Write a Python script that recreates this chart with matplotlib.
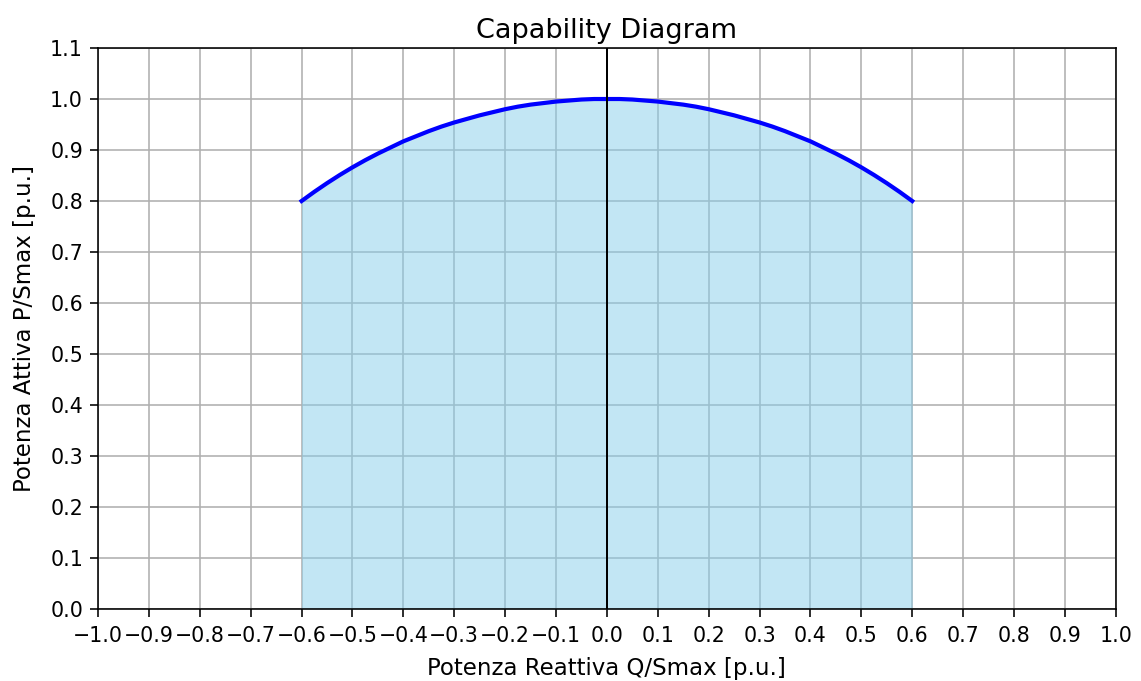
import matplotlib
matplotlib.use("Agg")
import matplotlib.pyplot as plt

# Values (arc from Q=-0.6 to Q=0.6)
q_vals = [-0.600, -0.575, -0.550, -0.525, -0.500, -0.475, -0.450, -0.425, -0.400, -0.375,
          -0.350, -0.325, -0.300, -0.275, -0.250, -0.225, -0.200, -0.175, -0.150, -0.125,
          -0.100, -0.075, -0.050, -0.025, 0.000, 0.025, 0.050, 0.075, 0.100, 0.125,
          0.150, 0.175, 0.200, 0.225, 0.250, 0.275, 0.300, 0.325, 0.350, 0.375,
          0.400, 0.425, 0.450, 0.475, 0.500, 0.525, 0.550, 0.575, 0.600]
p_vals = [0.800, 0.818, 0.835, 0.851, 0.866, 0.880, 0.893, 0.905, 0.917, 0.927,
          0.937, 0.946, 0.954, 0.961, 0.968, 0.974, 0.980, 0.985, 0.989, 0.992,
          0.995, 0.997, 0.999, 1.000, 1.000, 1.000, 0.999, 0.997, 0.995, 0.992,
          0.989, 0.985, 0.980, 0.974, 0.968, 0.961, 0.954, 0.946, 0.937, 0.927,
          0.917, 0.905, 0.893, 0.880, 0.866, 0.851, 0.835, 0.818, 0.800]
x_ticks = [-1.0, -0.9, -0.8, -0.7, -0.6, -0.5, -0.4, -0.3, -0.2, -0.1, 0.0,
           0.1, 0.2, 0.3, 0.4, 0.5, 0.6, 0.7, 0.8, 0.9, 1.0]
y_ticks = [0.0, 0.1, 0.2, 0.3, 0.4, 0.5, 0.6, 0.7, 0.8, 0.9, 1.0, 1.1]

S = 1.44
TICK_FS = 14.8
plt.rcParams['xtick.labelsize'] = TICK_FS
plt.rcParams['ytick.labelsize'] = TICK_FS
fig = plt.figure(figsize=(11.41, 6.81), dpi=100)
ax = fig.add_axes([0.0859, 0.1057, 0.892, 0.8238])

ax.fill_between(q_vals, 0, p_vals, color='skyblue', alpha=0.5, linewidth=0)
ax.plot(q_vals, p_vals, color='blue', linewidth=3.0)
ax.axvline(0, color='black', linewidth=1.0 * S)

ax.set_xlim(-1.0, 1.0)
ax.set_ylim(0.0, 1.1)
ax.set_xticks(x_ticks)
ax.set_yticks(y_ticks)
ax.set_xticklabels([f"{t:.1f}".replace('-', '\u2212') for t in x_ticks], fontsize=TICK_FS)
ax.set_yticklabels([f"{t:.1f}" for t in y_ticks], fontsize=TICK_FS)
ax.set_axisbelow(True)
ax.grid(True, color='#b0b0b0', linewidth=0.8 * S)
for sp in ax.spines.values():
    sp.set_linewidth(0.8 * S)
ax.tick_params(width=0.8 * S, length=5.8)
ax.tick_params(axis='x', pad=6.5)
ax.tick_params(axis='y', pad=5.0)

ax.set_title("Capability Diagram", fontsize=19.5, pad=7)
ax.set_xlabel("Potenza Reattiva Q/Smax [p.u.]", fontsize=16.5, labelpad=7.5)
ax.set_ylabel("Potenza Attiva P/Smax [p.u.]", fontsize=16.5, labelpad=10.5)

fig.savefig("out.png", dpi=100)
